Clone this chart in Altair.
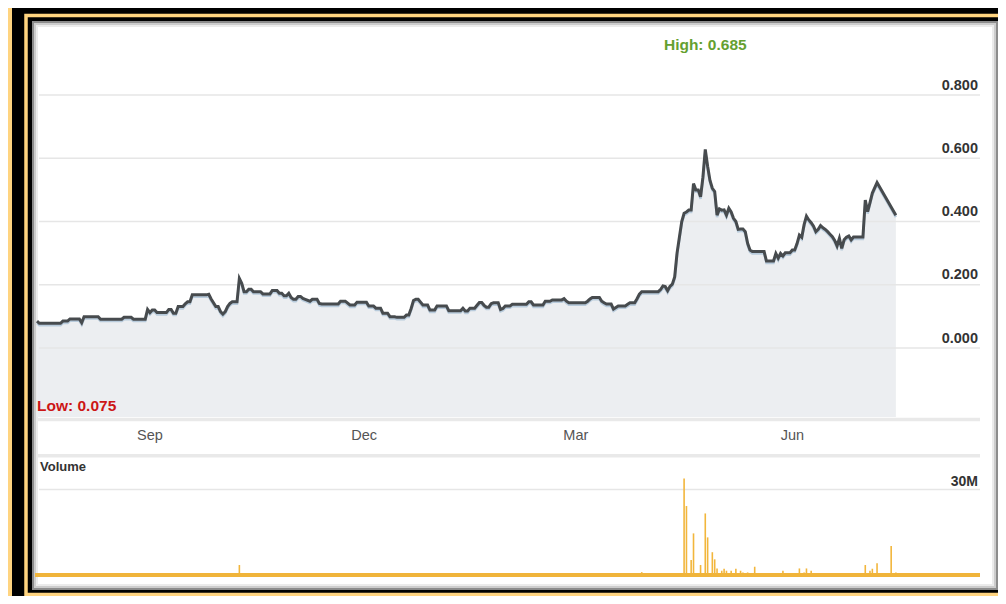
import altair as alt
import pandas as pd

# ---------------- data ----------------
START = "2012-07-15"

price_day = [0, 1, 10, 11, 13, 14, 18, 19, 20, 26, 27, 36, 37, 40, 41, 46, 47, 48, 49, 50,
             51, 55, 56, 57, 58, 59, 60, 62, 63, 64, 65, 66, 72, 73, 74, 76, 77, 78, 79, 80,
             81, 82, 83, 85, 86, 87, 88, 89, 90, 91, 92, 95, 96, 99, 100, 102, 103, 104, 105, 106,
             107, 108, 109, 110, 111, 112, 113, 114, 116, 117, 119, 120, 121, 128, 129, 131, 133, 135, 136, 140,
             141, 143, 144, 146, 147, 149, 150, 152, 153, 156, 157, 158, 159, 160, 161, 162, 163, 164, 166, 167,
             169, 170, 174, 175, 180, 181, 182, 183, 184, 186, 187, 188, 189, 190, 191, 192, 193, 194, 196, 197,
             198, 199, 201, 202, 208, 209, 210, 211, 215, 216, 218, 219, 223, 224, 225, 226, 233, 234, 235, 236,
             239, 240, 241, 242, 244, 245, 246, 247, 250, 251, 252, 254, 255, 256, 257, 264, 265, 266, 267, 268,
             269, 270, 271, 272, 273, 274, 275, 276, 277, 278, 279, 280, 281, 282, 283, 284, 285, 286, 287, 288,
             289, 290, 291, 292, 293, 294, 295, 296, 297, 298, 299, 300, 301, 302, 303, 304, 309, 310, 313, 314,
             315, 316, 317, 318, 320, 321, 322, 323, 324, 325, 326, 327, 328, 329, 330, 331, 332, 333, 334, 335,
             336, 337, 338, 339, 340, 341, 342, 343, 344, 345, 346, 347, 351, 352, 353, 354, 355, 357, 365]
price_val = [0.085, 0.078, 0.078, 0.085, 0.085, 0.092, 0.092, 0.080, 0.099, 0.099, 0.091, 0.091, 0.097, 0.097, 0.091, 0.091, 0.122, 0.112, 0.120, 0.120,
             0.112, 0.112, 0.122, 0.122, 0.110, 0.110, 0.131, 0.131, 0.140, 0.146, 0.146, 0.168, 0.168, 0.170, 0.155, 0.131, 0.131, 0.115, 0.107, 0.115,
             0.131, 0.141, 0.146, 0.146, 0.220, 0.205, 0.178, 0.178, 0.186, 0.186, 0.178, 0.178, 0.171, 0.171, 0.182, 0.182, 0.173, 0.173, 0.165, 0.165,
             0.173, 0.160, 0.154, 0.154, 0.163, 0.163, 0.157, 0.154, 0.148, 0.154, 0.154, 0.141, 0.139, 0.139, 0.148, 0.148, 0.136, 0.136, 0.145, 0.145,
             0.133, 0.133, 0.126, 0.126, 0.110, 0.110, 0.099, 0.099, 0.097, 0.097, 0.104, 0.104, 0.125, 0.150, 0.154, 0.154, 0.145, 0.136, 0.136, 0.120,
             0.120, 0.133, 0.133, 0.118, 0.118, 0.126, 0.117, 0.117, 0.126, 0.126, 0.135, 0.144, 0.144, 0.135, 0.129, 0.129, 0.140, 0.143, 0.143, 0.122,
             0.125, 0.133, 0.133, 0.138, 0.138, 0.146, 0.146, 0.136, 0.136, 0.148, 0.148, 0.152, 0.152, 0.156, 0.148, 0.143, 0.143, 0.148, 0.155, 0.160,
             0.160, 0.148, 0.143, 0.139, 0.139, 0.123, 0.128, 0.133, 0.133, 0.138, 0.143, 0.143, 0.156, 0.170, 0.178, 0.178, 0.185, 0.196, 0.194, 0.181,
             0.195, 0.202, 0.225, 0.300, 0.350, 0.400, 0.426, 0.430, 0.436, 0.436, 0.520, 0.500, 0.500, 0.478, 0.540, 0.628, 0.575, 0.530, 0.505, 0.495,
             0.420, 0.440, 0.436, 0.437, 0.420, 0.442, 0.430, 0.410, 0.400, 0.375, 0.376, 0.376, 0.368, 0.331, 0.310, 0.305, 0.305, 0.275, 0.275, 0.299,
             0.284, 0.299, 0.291, 0.301, 0.301, 0.310, 0.310, 0.330, 0.357, 0.350, 0.390, 0.417, 0.405, 0.396, 0.385, 0.368, 0.375, 0.387, 0.380, 0.375,
             0.368, 0.360, 0.352, 0.340, 0.323, 0.347, 0.315, 0.342, 0.350, 0.354, 0.342, 0.351, 0.351, 0.468, 0.431, 0.460, 0.490, 0.523, 0.420]

vol_day = [86, 257, 275, 276, 278, 279, 282, 284, 285, 287, 288, 289, 291, 292, 293, 295,
           297, 299, 300, 302, 305, 317, 324, 326, 327, 329, 352, 354, 355, 357, 363, 365]
vol_m = [3.5, 1.0, 33.9, 24.2, 5.3, 14.6, 3.5, 21.6, 13.2, 8.0, 5.5, 2.3, 1.5, 2.2, 1.5, 1.5,
         2.2, 1.5, 0.9, 0.9, 2.9, 1.5, 2.3, 0.9, 2.3, 1.5, 3.5, 1.5, 2.2, 4.1, 10.2, 0.9]

price_ticks = [0.0, 0.2, 0.4, 0.6, 0.8]
vol_ticks = [30]
vol_tick_labels = ["30M"]
month_labels = ["Sep", "Dec", "Mar", "Jun"]
month_dates = ["2012-09-01", "2012-12-01", "2013-03-01", "2013-06-01"]
high_text = ["High: 0.685"]
low_text = ["Low: 0.075"]
volume_title = ["Volume"]

# ---------------- tables ----------------
start = pd.Timestamp(START)
month_day = [(pd.Timestamp(d) - start).days for d in month_dates]

price_df = pd.DataFrame({"day": price_day, "price": price_val})
vol_df = pd.DataFrame({"day": vol_day, "vol": vol_m})
ptick_df = pd.DataFrame({"tick": price_ticks})
vtick_df = pd.DataFrame({"tick": vol_ticks, "label": vol_tick_labels})
month_df = pd.DataFrame({"day": month_day, "label": month_labels})
high_df = pd.DataFrame({"day": [price_df.loc[price_df["price"].idxmax(), "day"]], "label": high_text})
low_df = pd.DataFrame({"label": low_text})
voltitle_df = pd.DataFrame({"label": volume_title})
one = pd.DataFrame({"v": [0]})

FONT = "Liberation Sans, Arial, sans-serif"
W, H = 966, 569
AREA_FLOOR = -0.218

xs = alt.Scale(domain=[-2.125, 408.4], nice=False, zero=False)
ps = alt.Scale(domain=[-0.7652, 1.034], nice=False, zero=False)
vs = alt.Scale(domain=[-5.263, 194.39], nice=False, zero=False)

X = alt.X("day:Q", scale=xs, axis=None)

# inner shadow of the white panel
shadows = [
    alt.Chart(one).mark_rect(filled=False, stroke="#000", strokeOpacity=op, strokeWidth=2).encode(
        x=alt.value(i), x2=alt.value(W - i), y=alt.value(i), y2=alt.value(H - i))
    for i, op in [(1, 0.45), (3, 0.2), (5, 0.08)]
]

area = alt.Chart(price_df).mark_area(color="#eceef1").encode(
    x=X, y=alt.Y("price:Q", scale=ps, axis=None), y2=alt.Y2Datum(AREA_FLOOR))

pgrid = alt.Chart(ptick_df).mark_rule(color="#e6e6e6", strokeWidth=1.5).encode(
    y=alt.Y("tick:Q", scale=ps, axis=None), x=alt.value(7), x2=alt.value(948))

plabels = alt.Chart(ptick_df).mark_text(
    align="right", baseline="alphabetic", dy=-5.5, font=FONT, fontSize=14.5,
    fontWeight="bold", color="#333333").encode(
    y=alt.Y("tick:Q", scale=ps, axis=None), x=alt.value(946),
    text=alt.Text("tick:Q", format=".3f"))

bands = [
    alt.Chart(one).mark_rule(color="#e9e9e9", strokeWidth=3.5).encode(
        y=alt.value(yy), x=alt.value(6), x2=alt.value(948))
    for yy in (398.5, 434.8)
]

mlabels = alt.Chart(month_df).mark_text(
    baseline="middle", font=FONT, fontSize=14.5, color="#555555").encode(
    x=X, y=alt.value(415), text="label:N")

pshadow = alt.Chart(price_df).transform_calculate(ps="datum.price - 0.006").mark_line(
    color="#b8cbdc", strokeWidth=2.5).encode(x=X, y=alt.Y("ps:Q", scale=ps, axis=None))

pline = alt.Chart(price_df).mark_line(color="#474b4e", strokeWidth=3).encode(
    x=X, y=alt.Y("price:Q", scale=ps, axis=None))

high = alt.Chart(high_df).mark_text(
    align="center", baseline="middle", font=FONT, fontSize=15.5, fontWeight="bold",
    color="#64a030").encode(x=X, y=alt.value(23.5), text="label:N")

low = alt.Chart(low_df).mark_text(
    align="left", baseline="middle", font=FONT, fontSize=15.5, fontWeight="bold",
    color="#cc1616").encode(x=alt.value(5), y=alt.value(385), text="label:N")

vgrid = alt.Chart(vtick_df).mark_rule(color="#e6e6e6", strokeWidth=1.5).encode(
    y=alt.Y("tick:Q", scale=vs, axis=None), x=alt.value(7), x2=alt.value(948))

vlabels = alt.Chart(vtick_df).mark_text(
    align="right", baseline="alphabetic", dy=-3.5, font=FONT, fontSize=14,
    fontWeight="bold", color="#333333").encode(
    y=alt.Y("tick:Q", scale=vs, axis=None), x=alt.value(946), text="label:N")

vtitle = alt.Chart(voltitle_df).mark_text(
    align="left", baseline="middle", font=FONT, fontSize=13, fontWeight="bold",
    color="#333333").encode(x=alt.value(8), y=alt.value(446), text="label:N")

vbars = alt.Chart(vol_df).mark_rule(color="#f2b63c", strokeWidth=1.6).encode(
    x=X, y=alt.Y("vol:Q", scale=vs, axis=None), y2=alt.Y2Datum(0))

vbase = alt.Chart(one).mark_rule(color="#f0b43a", strokeWidth=4).encode(
    y=alt.Y("v:Q", scale=vs, axis=None), x=alt.value(3), x2=alt.value(948))

# decorative frame (outside the white panel)
tan = "#ffd480"
frame_left = alt.Chart(one).mark_rect(color=tan).encode(
    x=alt.value(-24), x2=alt.value(-20), y=alt.value(-13), y2=alt.value(H + 6))
frame_line = alt.Chart(one).mark_rect(filled=False, stroke=tan, strokeWidth=3.5).encode(
    x=alt.value(-6), x2=alt.value(W + 40), y=alt.value(-5.5), y2=alt.value(H + 4.5))

chart = alt.layer(
    *shadows, area, pgrid, plabels, *bands, mlabels, pshadow, pline, high, low,
    vgrid, vlabels, vtitle, vbars, vbase, frame_left, frame_line
).resolve_scale(y="independent").properties(
    width=W, height=H,
    autosize=alt.AutoSizeParams(type="none"),
    padding={"left": 24, "top": 13, "right": 0, "bottom": 6},
    background="#000000",
).configure_view(fill="#ffffff", strokeWidth=0)

chart.save("out.html", embed_options={"renderer": "svg", "actions": False})
